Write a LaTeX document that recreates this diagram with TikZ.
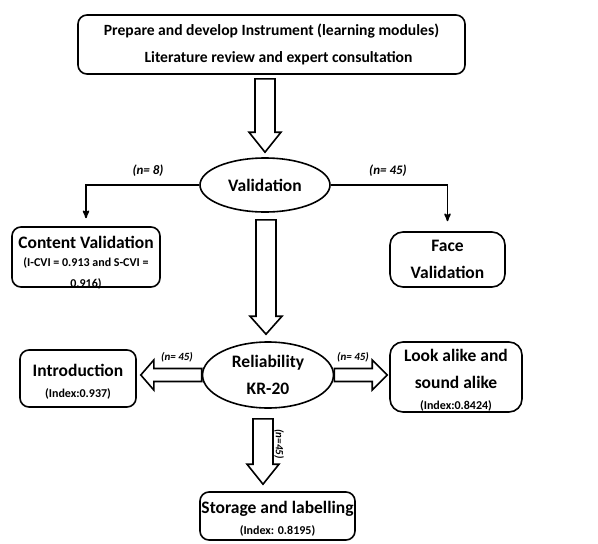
\documentclass[tikz,border=0pt]{standalone}
\usepackage{fontspec}
\setmainfont{Carlito}
\usepackage{tikz}
\usetikzlibrary{arrows,calc,shapes.geometric}

\newcommand{\idxtext}{\bfseries\fontsize{12}{14}\selectfont}

% hollow block arrows: start, tip, head length
\newcommand{\hollowdown}[3]{%
  \draw[hollow] ($(#1)+(-10,0)$) -- ($(#2)+(-10,-#3)$) -- ($(#2)+(-16,-#3)$) -- (#2)
    -- ($(#2)+(16,-#3)$) -- ($(#2)+(10,-#3)$) -- ($(#1)+(10,0)$) -- cycle;}
\newcommand{\hollowside}[3]{%
  \draw[hollow] ($(#1)+(0,-6.5)$) -- ($(#2)+(#3,-6.5)$) -- ($(#2)+(#3,-15)$) -- (#2)
    -- ($(#2)+(#3,15)$) -- ($(#2)+(#3,6.5)$) -- ($(#1)+(0,6.5)$) -- cycle;}

\begin{document}
\begin{tikzpicture}[x=1pt,y=-1pt,-,>=stealth',line width=1.6pt,
  box node/.style={draw,rounded corners=9pt,align=center,inner sep=0pt,
    font=\bfseries\fontsize{17.5}{27}\selectfont},
  oval node/.style={draw,ellipse,align=center,inner sep=0pt,
    font=\bfseries\fontsize{17.5}{27}\selectfont},
  size label/.style={font=\bfseries\itshape\fontsize{13}{15}\selectfont},
  small label/.style={font=\bfseries\itshape\fontsize{11}{13}\selectfont},
  hollow/.style={fill=white,line join=miter}]
  \useasboundingbox (0,0) rectangle (598,544);

  \node[box node,minimum width=387pt,minimum height=59pt,font=\bfseries\fontsize{15.6}{27}\selectfont] (1) at (271.5,44.5)
    {Prepare and develop Instrument (learning modules)\\ \hspace*{14pt}Literature review and expert consultation};
  \node[oval node,minimum width=130pt,minimum height=54pt] (2) at (265,185) {Validation};
  \node[box node,minimum width=148pt,text height=60pt,text depth=0pt] (3) at (86,257)
    {Content Validation\\[-9pt]{\idxtext (I-CVI = 0.913 and S-CVI =}\\[-6pt]{\idxtext 0.916)}};
  \node[box node,rounded corners=13pt,minimum width=115pt,minimum height=55pt] (4) at (447.5,259.5)
    {Face\\Validation};
  \node[oval node,minimum width=131pt,minimum height=66pt] (5) at (268,375) {Reliability\\KR-20};
  \node[box node,minimum width=116pt,text height=47pt,text depth=10pt] (6) at (78,378.5)
    {Introduction\\[-6pt]{\idxtext (Index:0.937)}};
  \node[box node,rounded corners=13pt,minimum width=132pt,text height=67pt,text depth=3pt] (7) at (456,377)
    {Look alike and\\sound alike\\[-6pt]{\idxtext (Index:0.8424)}};
  \node[box node,minimum width=155pt,text height=42pt,text depth=6pt] (8) at (277.5,516)
    {Storage and labelling\\[-6pt]{\idxtext (Index: 0.8195)}};

  \draw[->,shorten >=8pt] (2.west) -| (3.north);
  \draw[->,shorten >=10pt] (2.east) -| (4.north);

  \coordinate (a1) at ($(2.north |- 1.south)+(0,4)$);
  \coordinate (b1) at ($(2.north)+(0,-5)$);
  \coordinate (a2) at ($(2.south)+(1,7)$);
  \coordinate (b2) at ($(2.south |- 5.north)+(1,-7)$);
  \coordinate (a3) at ($(5.south)+(-5,10)$);
  \coordinate (b3) at ($(5.south |- 8.north)+(-5,-7)$);
  \coordinate (b4) at ($(6.east |- 5.west)+(4,0)$);
  \coordinate (b5) at ($(7.west |- 5.east)+(-2,0)$);
  \hollowdown{a1}{b1}{20}
  \hollowdown{a2}{b2}{18}
  \hollowdown{a3}{b3}{20}
  \hollowside{5.west}{b4}{13}
  \hollowside{5.east}{b5}{-15}

  \node[size label] (n1) at (148,171) {(n= 8)};
  \node[size label] (n2) at (388,171) {(n= 45)};
  \node[small label] (n3) at (177,357) {(n= 45)};
  \node[small label] (n4) at (353,357) {(n= 45)};
  \node[small label,rotate=-90] (n5) at (279,444) {(n=45)};
\end{tikzpicture}
\end{document}
